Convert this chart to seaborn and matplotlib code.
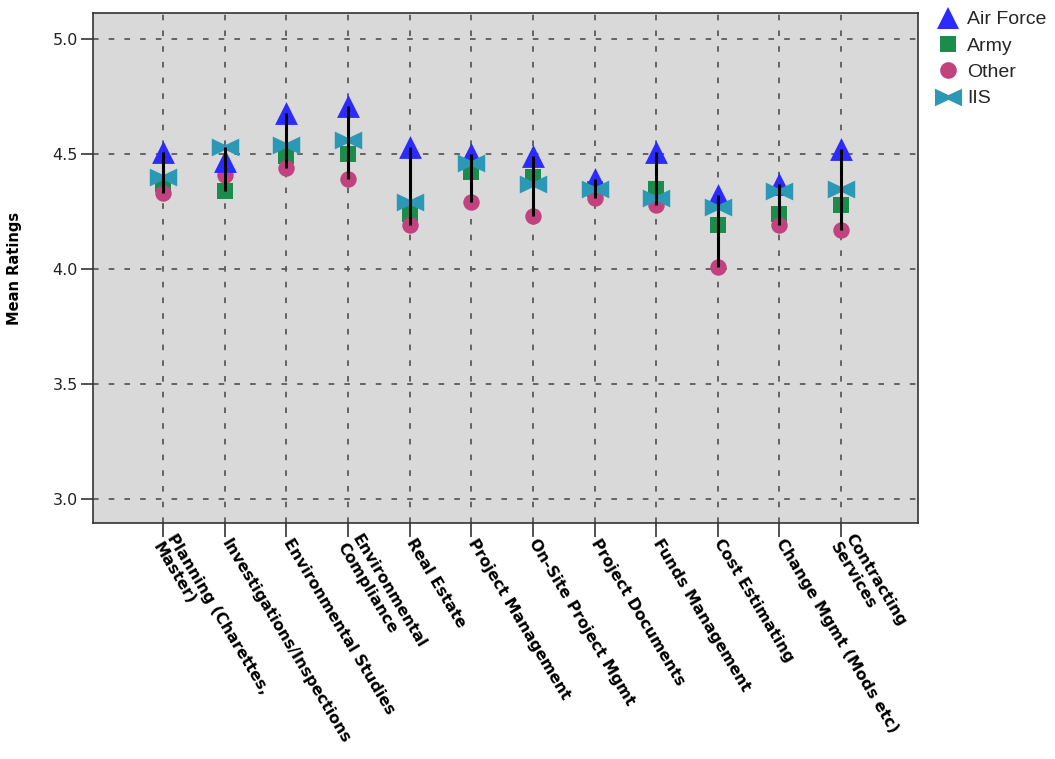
import numpy as np
import pandas as pd
import matplotlib
matplotlib.use("Agg")
import matplotlib.pyplot as plt
import seaborn as sns
from matplotlib.path import Path
from matplotlib.lines import Line2D

categories = [
    "Planning (Charettes,\nMaster)",
    "Investigations/Inspections",
    "Environmental Studies",
    "Environmental\nCompliance",
    "Real Estate",
    "Project Management",
    "On-Site Project Mgmt",
    "Project Documents",
    "Funds Management",
    "Cost Estimating",
    "Change Mgmt (Mods etc)",
    "Contracting\nServices",
]
air_force = [4.51, 4.47, 4.68, 4.71, 4.53, 4.50, 4.49, 4.39, 4.51, 4.32, 4.37, 4.52]
army      = [4.37, 4.34, 4.49, 4.50, 4.24, 4.42, 4.40, 4.35, 4.35, 4.19, 4.24, 4.28]
other     = [4.33, 4.41, 4.44, 4.39, 4.19, 4.29, 4.23, 4.31, 4.28, 4.01, 4.19, 4.17]
iis       = [4.40, 4.53, 4.54, 4.56, 4.29, 4.46, 4.37, 4.35, 4.31, 4.27, 4.34, 4.35]
series_names = ["Air Force", "Army", "Other", "IIS"]
y_ticks = [3.0, 3.5, 4.0, 4.5, 5.0]

values = {"Air Force": air_force, "Army": army, "Other": other, "IIS": iis}
df = pd.concat(
    [pd.DataFrame({"Category": categories, "Rating": values[n], "Series": n}) for n in series_names],
    ignore_index=True,
)

bowtie = Path(
    [(-1, -0.65), (-1, 0.65), (0, 0.18), (1, 0.65), (1, -0.65), (0, -0.18), (-1, -0.65)],
    [Path.MOVETO, Path.LINETO, Path.LINETO, Path.LINETO, Path.LINETO, Path.LINETO, Path.CLOSEPOLY],
)
markers = {"Air Force": "^", "Army": "s", "Other": "o", "IIS": bowtie}
colors = {"Air Force": "#2b2bff", "Army": "#1b8c4c", "Other": "#c2427f", "IIS": "#2b98b6"}
sizes = {"Air Force": 270, "Army": 145, "Other": 140, "IIS": 390}
msizes = {"Air Force": 16, "Army": 12, "Other": 12, "IIS": 19.5}

sns.set_style("white")
plt.rcParams["font.family"] = ["DejaVu Sans"]

fig = plt.figure(figsize=(10.55, 7.59), dpi=100)
ax = fig.add_axes([93 / 1055, 1 - 523 / 759, (918 - 93) / 1055, (523 - 13) / 759])
ax.set_facecolor("#d9d9d9")

draw_order = ["Army", "Other", "Air Force", "IIS"]
for i, name in enumerate(draw_order):
    sns.scatterplot(
        data=df[df["Series"] == name], x="Category", y="Rating",
        marker=markers[name], s=sizes[name], color=colors[name],
        linewidth=0, ax=ax, legend=False, zorder=3 + i,
    )

wide = df.pivot(index="Category", columns="Series", values="Rating").loc[categories]
lo = wide[series_names].min(axis=1).values
hi = wide[series_names].max(axis=1).values
ax.vlines(np.arange(len(categories)), lo, hi, colors="black", linewidth=2.2, zorder=10)

ax.set_xlim(-1.14, 11 + 1.25)
ax.set_ylim(2.896, 5.113)
ax.set_yticks(y_ticks)
ax.set_yticklabels([f"{v:.1f}" for v in y_ticks], fontsize=11.5, color="#222222")
ax.set_xticks(np.arange(len(categories)))
ax.set_xticklabels(categories, rotation=-59, ha="left", va="center",
                   rotation_mode="anchor", fontweight="bold", fontsize=11.3,
                   color="black")
ax.set_xlabel("")
ax.set_ylabel("Mean Ratings", fontweight="bold", fontsize=10.5, color="black")
ax.yaxis.set_label_coords(-0.086, 0.5)

ax.grid(True, linestyle=(0, (3.1, 5.6)), color="#5a5a5a", linewidth=1.3)
ax.set_axisbelow(True)
ax.tick_params(axis="x", length=10, width=1.2, pad=2, color="#333333", bottom=True)
ax.tick_params(axis="y", length=9, width=1.2, pad=2, color="#333333", left=True)
for sp in ax.spines.values():
    sp.set_visible(True)
    sp.set_color("#333333")
    sp.set_linewidth(1.2)

handles = [
    Line2D([], [], linestyle="none", marker=markers[n], markersize=msizes[n],
           markerfacecolor=colors[n], markeredgewidth=0)
    for n in series_names
]
fig.legend(handles, series_names, loc="upper left",
           bbox_to_anchor=(928 / 1055, 1 - 3 / 759), frameon=False,
           handletextpad=0.3, labelspacing=0.45, borderaxespad=0,
           handlelength=1.3, prop={"family": "Liberation Sans", "size": 14})

fig.savefig("out.png", dpi=100)
